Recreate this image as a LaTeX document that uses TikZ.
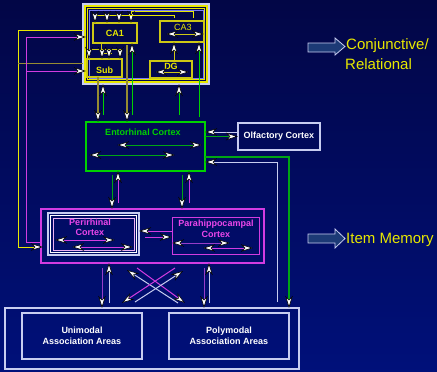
\documentclass[tikz,border=0pt]{standalone}
\usepackage{fontspec}
\setmainfont{Liberation Sans}
\usetikzlibrary{arrows.meta}
\definecolor{bgtop}{RGB}{2,6,70}
\definecolor{bgbot}{RGB}{0,16,122}
\definecolor{yel}{RGB}{232,232,0}
\definecolor{dyel}{RGB}{205,200,20}
\definecolor{oliv}{RGB}{150,140,50}
\definecolor{grn}{RGB}{0,210,0}
\definecolor{dgrn}{RGB}{0,165,20}
\definecolor{mag}{RGB}{210,60,225}
\definecolor{pur}{RGB}{150,60,200}
\definecolor{lav}{RGB}{200,205,240}
\definecolor{txtmag}{RGB}{235,70,235}
\definecolor{arrfill}{RGB}{28,58,118}
\tikzset{
  ln/.style={line width=1pt},
  box/.style={draw, line width=1.2pt, inner sep=0pt, outer sep=0pt},
  lbl/.style={font=\fontsize{9}{10.5}\selectfont\bfseries, align=center, inner sep=0pt},
  side/.style={font=\fontsize{15}{20}\selectfont, text=yel, inner sep=0pt, anchor=base west},
  blockarrow/.style={draw=lav, fill=arrfill, line width=0.8pt},
}
\begin{document}
\begin{tikzpicture}[x=1pt,y=-1pt,
  >={Stealth[length=12pt 0,width=7.5pt 0,inset=3.5pt 0,line width=0.6pt,color=black,fill=white]}]
\useasboundingbox (0,0) rectangle (437,372);
\fill[top color=bgtop,bottom color=bgbot] (0,0) rectangle (437,372);

% ---------- Hippocampal formation ----------
\node[box,draw=lav,minimum width=126pt,minimum height=80pt] (hc) at (146,44) {};
\draw[yel,line width=1.3pt] (85,6) rectangle (207,82);
\draw[yel,line width=1pt] (87.4,8.4) rectangle (204.6,79.6);
\draw[lav!60!blue,line width=0.7pt] (89,10) rectangle (203,78);

\node[box,draw=dyel,minimum width=44pt,minimum height=20pt,lbl,text=yel] (ca1) at (115,33) {CA1};
\node[box,draw=dyel,minimum width=35pt,minimum height=18pt] (sub) at (104.5,68) {};
\node[lbl,text=yel] (subt) at (104.5,70) {Sub};
\node[box,draw=dyel,minimum width=44pt,minimum height=21pt] (ca3) at (182,31.5) {};
\node[lbl,text=yel,font=\fontsize{9}{10.5}\selectfont] (ca3t) at (183,27) {CA3};
\node[box,draw=dyel,minimum width=42pt,minimum height=17pt] (dg) at (171,69.5) {};
\node[lbl,text=yel] (dgt) at (171,66) {DG};

% Schaffer collaterals CA3 -> CA1
\draw[yel,ln,->] (193,18) -- (193,11) -- (131,11) -- (131,0 |- ca1.north);
\draw[yel,ln] (174,18) -- (174,15) -- (95,15);
\foreach \x in {95,107,119} \draw[yel,ln,->] (\x,15) -- (\x,0 |- ca1.north);
% CA1 -> Sub
\draw[dyel,ln] (101,0 |- ca1.south) -- (101,49);
\draw[dyel,ln] (89,49) -- (120,49);
\draw[dyel,ln] (101,53) -- (112,53);
\foreach \x/\y in {89/49,102/53,109/53,120/49} \draw[dyel,ln,->] (\x,\y) -- (\x,0 |- sub.north);
% inside CA3 / DG
\draw[dyel,ln,<->] (166,34) -- (ca3.east |- 0,34);
\draw[dyel,ln,<->] (155,72) -- (189,72);
\draw[dyel,ln,->] (174,0 |- dg.north) -- (174,0 |- ca3.south);

% ---------- Entorhinal cortex ----------
\node[box,draw=grn,minimum width=119pt,minimum height=49pt] (ec) at (145.5,146.5) {};
\node[lbl,text=grn] (ect) at (143,132) {Entorhinal Cortex};
\draw[dgrn,ln,<->] (117,145) -- (202,145);
\draw[dgrn,ln,<->] (89,155) -- (175,155);

% hippocampus <-> EC
\draw[oliv,line width=1.6pt,->] (98,0 |- sub.south) -- (98,0 |- ec.north);
\draw[oliv,line width=1.6pt,->] (127,45) -- (127,0 |- ec.north);
\draw[grn,ln,->] (103,115) -- (103,0 |- hc.south);
\draw[grn,ln,->] (132,115) -- (132,0 |- ca1.south);
\draw[grn,ln,->] (179,115) -- (179,0 |- hc.south);
\draw[grn,ln,->] (199,117) -- (199,0 |- ca3.south);

% ---------- Olfactory cortex ----------
\node[box,draw=lav,minimum width=82pt,minimum height=27pt,lbl,text=white] (olf) at (279,136.5) {Olfactory Cortex};
\draw[lav,ln,->] (olf.west |- 0,132) -- (ec.east |- 0,132);
\draw[dgrn,ln,->] (ec.east |- 0,136.5) -- (olf.west |- 0,136.5);

% ---------- Parahippocampal region ----------
\node[box,draw=mag,minimum width=223pt,minimum height=54pt] (phr) at (152.5,236) {};
\node[box,draw=lav,minimum width=91pt,minimum height=42pt] (prh) at (93.5,234) {};
\draw[white,line width=1.5pt] (50.6,215.6) rectangle (136.4,252.4);
\draw[mag!40!white,line width=1pt] (53,218) rectangle (134,250);
\node[lbl,text=txtmag,font=\fontsize{9}{10}\selectfont\bfseries] (prht) at (90,227.5) {Perirhinal\\Cortex};
\draw[mag,ln,<->] (55,240) -- (115,240);
\draw[mag,ln,<->] (72,247) -- (133,247);

\node[box,draw=mag,line width=1pt,minimum width=87pt,minimum height=37pt] (phc) at (215.5,235.5) {};
\node[lbl,text=txtmag,font=\fontsize{9}{11}\selectfont\bfseries] (phct) at (216,228.5) {Parahippocampal\\Cortex};
\draw[pur,ln,<->] (phc.west |- 0,243) -- (230,243);
\draw[mag,ln,<->] (203,248) -- (253,248);

\draw[mag,ln,->] (phc.west |- 0,231) -- (prh.east |- 0,231);
\draw[mag,ln,->] (145,237) -- (phc.west |- 0,237);

% EC <-> parahippocampal region
\draw[dgrn,ln,->] (112,175) -- (112,0 |- phr.north);
\draw[mag,ln,->] (118,203) -- (118,0 |- ec.south);
\draw[dgrn,ln,->] (182,175) -- (182,0 |- phr.north);
\draw[mag,ln,->] (189,203) -- (189,0 |- ec.south);

% ---------- Association areas ----------
\node[box,draw=lav,minimum width=294pt,minimum height=61pt] (assoc) at (152,338.5) {};
\node[box,draw=lav,minimum width=120pt,minimum height=46pt,lbl,text=white,font=\fontsize{9}{11}\selectfont\bfseries] (uni) at (82,336) {Unimodal\\Association Areas};
\node[box,draw=lav,minimum width=120pt,minimum height=46pt,lbl,text=white,font=\fontsize{9}{11}\selectfont\bfseries] (poly) at (229,336) {Polymodal\\Association Areas};

% parahippocampal region <-> association
\draw[pur,ln,->] (102,268) -- (102,0 |- assoc.north);
\draw[lav,ln,->] (109,303) -- (109,0 |- phr.south);
\draw[pur,ln,->] (204,268) -- (204,0 |- assoc.north);
\draw[lav,ln,->] (209,303) -- (209,0 |- phr.south);
\draw[mag,ln,->] (137,268) -- (185,303);
\draw[lav,ln,->] (178,303) -- (127,270);
\draw[mag,ln,->] (175,268) -- (122,303);
\draw[lav,ln,->] (135,302) -- (183,271);

% EC <-> association (right side)
\draw[dgrn,line width=1.2pt,->] (ec.east |- 0,157) -- (289,157) -- (289,0 |- assoc.north);
\draw[lav,ln,->] (277,302) -- (277,162) -- (ec.east |- 0,162);

% ---------- Left return paths ----------
\draw[yel,ln,->] (hc.west |- 0,30) -- (18,30) -- (18,247) -- (43,247);
\draw[oliv,ln] (hc.west |- 0,63) -- (18,63);
\draw[mag,ln] (phr.west |- 0,242) -- (26,242) -- (26,37);
\draw[mag,ln,->] (26,37) -- (86,37);
\draw[mag,ln,->] (26,71) -- (86,71);

% ---------- Side labels ----------
\draw[blockarrow] (308,43) -- (335,43) -- (335,38) -- (345,46.5) -- (335,55) -- (335,52) -- (308,52) -- cycle;
\node[side] (conj) at (346,49) {Conjunctive/};
\node[side] (rel) at (345,69) {Relational};
\draw[blockarrow] (308,234) -- (335,234) -- (335,229) -- (345,238.5) -- (335,248) -- (335,243) -- (308,243) -- cycle;
\node[side] (item) at (346,243) {Item Memory};
\end{tikzpicture}
\end{document}
